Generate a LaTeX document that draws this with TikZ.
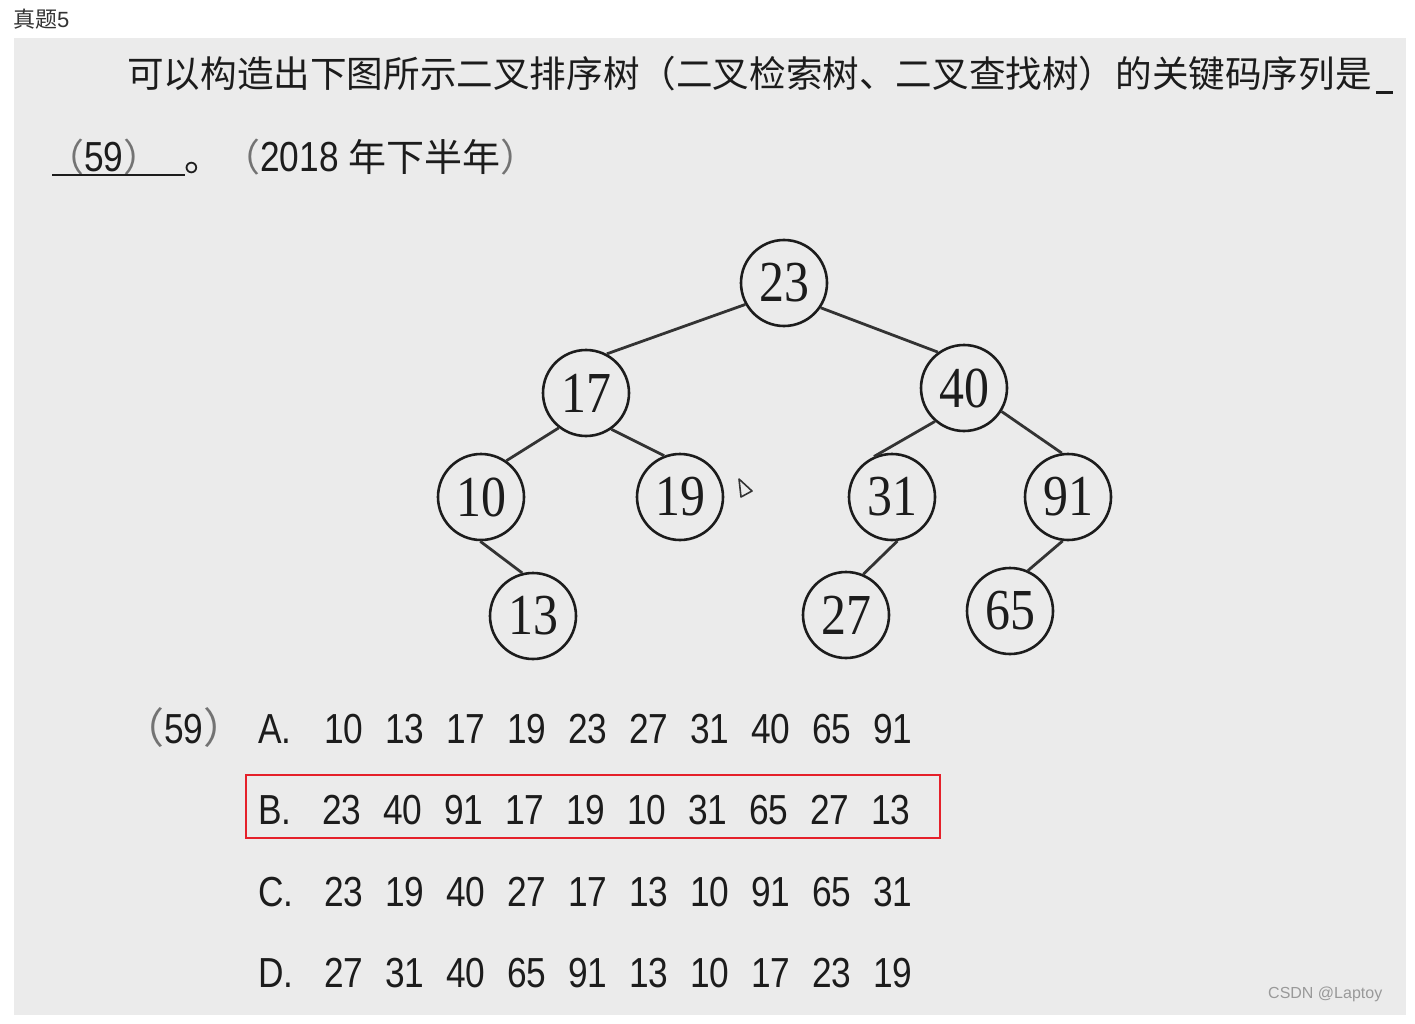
\documentclass[tikz,border=0pt]{standalone}
\usepackage{fontspec}
\setmainfont{Liberation Serif}
\newfontfamily\cjk{Noto Sans CJK SC}
\newfontfamily\arialn[FakeStretch=0.84]{Liberation Sans}
\newfontfamily\arialw{Liberation Sans}
\newfontfamily\treefont[FakeStretch=0.86]{Liberation Serif}
\definecolor{panel}{HTML}{EBEBEB}
\definecolor{ink}{HTML}{1C1C1C}
\definecolor{boxred}{HTML}{E5202A}
\newcommand{\numcell}[1]{\makebox[61pt][l]{#1}}
\newcommand{\optlabel}[1]{\makebox[66pt][l]{#1.}}
\tikzset{
  treenode/.style={circle, draw=ink, line width=2.6pt, minimum size=86pt, inner sep=0pt,
    font=\fontsize{58}{58}\selectfont\treefont, text=ink},
  treeedge/.style={draw=ink!90, line width=2.8pt},
  optrow/.style={anchor=base west, inner sep=0pt, text=ink,
    font=\fontsize{42}{42}\selectfont\arialn},
  qtext/.style={anchor=base west, inner sep=0pt, text=ink},
}
\begin{document}
\begin{tikzpicture}[x=1pt,y=-1pt]
\useasboundingbox (0,0) rectangle (1415,1024);
\fill[white] (0,0) rectangle (1415,1024);
\fill[panel] (14,38) rectangle (1406,1015);

% header
\node[qtext, text=black!80, font=\fontsize{22}{22}\selectfont] (title) at (13,28) {\cjk 真题\arialw 5};

% question line 1
\node[qtext, font=\fontsize{36.6}{37}\selectfont\cjk] (q1) at (127,88)
  {可以构造出下图所示二叉排序树（二叉检索树、二叉查找树）的关键码序列是};
\draw[ink, line width=3pt] (1376,93) -- (1393,93);

% question line 2
\node[qtext, font=\fontsize{38}{38}\selectfont] (blank) at (46,172)
  {{\cjk\color{black!55}（}{\fontsize{42}{42}\selectfont\arialn 59}{\cjk\color{black!55}）}};
\draw[ink, line width=2.5pt] (52,175) -- (185,175);
\node[qtext, font=\fontsize{38}{38}\selectfont] (year) at (184,172)
  {{\cjk 。}{\cjk\color{black!55}（}{\fontsize{42}{42}\selectfont\arialn 2018 }{\cjk 年下半年}{\cjk\color{black!55}）}};

% tree
\node[treenode] (n23) at (784,283) {23};
\node[treenode] (n17) at (586,393) {17};
\node[treenode] (n40) at (964,388) {40};
\node[treenode] (n10) at (481,497) {10};
\node[treenode] (n19) at (680,497) {19};
\node[treenode] (n31) at (892,497) {31};
\node[treenode] (n91) at (1068,497) {91};
\node[treenode] (n13) at (533,616) {13};
\node[treenode] (n27) at (846,615) {27};
\node[treenode] (n65) at (1010,611) {65};
\draw[treeedge] (n23.-151) -- (n17.62);
\draw[treeedge] (n23.-34) -- (n40.126);
\draw[treeedge] (n17.-128) -- (n10.55);
\draw[treeedge] (n17.-55) -- (n19.111);
\draw[treeedge] (n10.-91) -- (n13.104);
\draw[treeedge] (n40.-131) -- (n31.114);
\draw[treeedge] (n40.-32) -- (n91.98);
\draw[treeedge] (n31.-83) -- (n27.67);
\draw[treeedge] (n91.-97) -- (n65.66);

% mouse cursor
\draw[black!80, line width=1.6pt, line join=round] (739,479) -- (741,497) -- (752,491) -- cycle;

% options
\node[optrow] (qnum) at (122,743)
  {{\cjk\color{black!55}（}59{\cjk\color{black!55}）}};
\node[optrow] (optA) at (258,743)
  {\optlabel{A}\numcell{10}\numcell{13}\numcell{17}\numcell{19}\numcell{23}\numcell{27}\numcell{31}\numcell{40}\numcell{65}\numcell{91}};
\node[optrow] (optB) at (258,824)
  {\makebox[64pt][l]{B.}\numcell{23}\numcell{40}\numcell{91}\numcell{17}\numcell{19}\numcell{10}\numcell{31}\numcell{65}\numcell{27}\numcell{13}};
\node[optrow] (optC) at (258,906)
  {\optlabel{C}\numcell{23}\numcell{19}\numcell{40}\numcell{27}\numcell{17}\numcell{13}\numcell{10}\numcell{91}\numcell{65}\numcell{31}};
\node[optrow] (optD) at (258,987)
  {\optlabel{D}\numcell{27}\numcell{31}\numcell{40}\numcell{65}\numcell{91}\numcell{13}\numcell{10}\numcell{17}\numcell{23}\numcell{19}};
\draw[boxred, line width=2.5pt] (246,775) rectangle (940,838);

% watermark
\node[anchor=base west, inner sep=0pt, text=black!40, font=\fontsize{16}{16}\selectfont\arialw] (wm) at (1268,998) {CSDN @Laptoy};
\end{tikzpicture}
\end{document}
